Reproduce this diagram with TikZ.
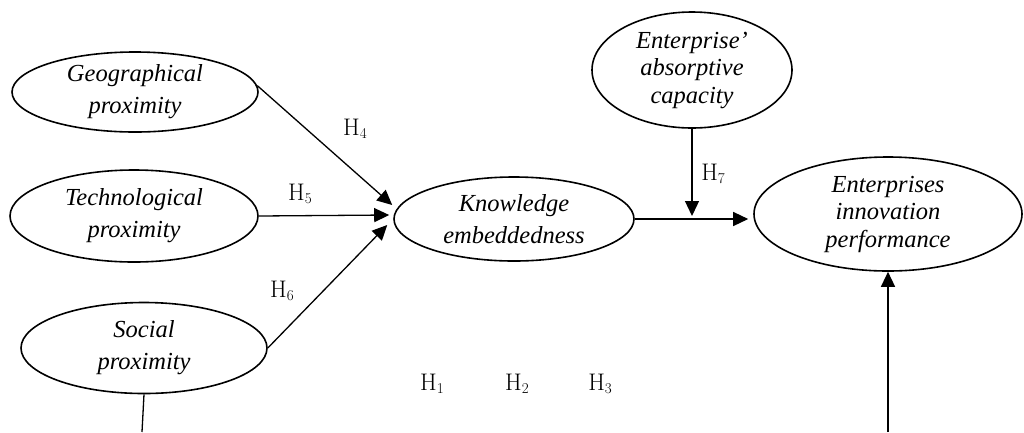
\documentclass[tikz,border=0pt]{standalone}
\usepackage{fontspec}
\newfontfamily\tnr{Liberation Serif}
\usetikzlibrary{shapes.geometric,arrows.meta}
% hypothesis label: H with a lowered index
\newcommand{\hyp}[1]{H\raisebox{-3pt}{\fontsize{15}{15}\selectfont #1}}
\begin{document}
\begin{tikzpicture}[x=1pt,y=-1pt,
  construct/.style={ellipse,draw,line width=1.6pt,inner sep=0pt,align=center,
    font=\tnr\itshape\fontsize{24.5}{32}\selectfont},
  tight/.style={font=\tnr\itshape\fontsize{24.5}{27.5}\selectfont},
  link/.style={line width=1.3pt,-{Triangle[length=15pt,width=14pt]}},
  plain/.style={line width=1.3pt},
  hlabel/.style={inner sep=0pt,font=\fontsize{24}{28}\selectfont}]
\useasboundingbox (0,0) rectangle (1024,432);

% constructs
\node[construct,minimum width=246pt,minimum height=80pt] (geo) at (135,92) {Geographical\\proximity};
\node[construct,minimum width=248pt,minimum height=92pt] (tech) at (134,216) {Technological\\proximity};
\node[construct,minimum width=246pt,minimum height=91pt] (soc) at (144,348) {Social\\proximity};
\node[construct,minimum width=240pt,minimum height=84pt] (know) at (514,219) {Knowledge\\embeddedness};
\node[construct,tight,minimum width=200pt,minimum height=116pt] (abs) at (692,70) {Enterprise’\\absorptive\\capacity};
\node[construct,tight,minimum width=268pt,minimum height=114pt] (perf) at (888,214) {Enterprises\\innovation\\performance};

% paths into knowledge embeddedness
\draw[link] (geo.3) -- ([xshift=-1pt,yshift=14pt]know.west);
\draw[link] (tech.east) -- ([xshift=-4pt,yshift=4pt]know.west);
\draw[link] (soc.east) -- ([xshift=-6pt,yshift=-6pt]know.west);

% main path and moderator
\draw[link] (know.east) -- ([xshift=-5pt]know.east -| perf.west);
\coordinate (mod) at ([yshift=3pt]abs.south |- know.east);
\draw[link] (abs.south) -- (mod);

% paths leaving the lower edge
\coordinate (bottom) at (0,432);
\coordinate (sbot) at (142,432);
\coordinate (pbot) at (perf.south |- bottom);
\draw[plain] (soc.south) -- (sbot);
\draw[link] (pbot) -- (perf.south);

% hypothesis labels
\node[hlabel] (h4) at (355,129) {\hyp{4}};
\node[hlabel] (h5) at (300,194) {\hyp{5}};
\node[hlabel] (h6) at (282,291) {\hyp{6}};
\node[hlabel] (h7) at (713,174) {\hyp{7}};
\node[hlabel] (h1) at (432,384) {\hyp{1}};
\node[hlabel] (h2) at (517,384) {\hyp{2}};
\node[hlabel] (h3) at (600,384) {\hyp{3}};
\end{tikzpicture}
\end{document}
